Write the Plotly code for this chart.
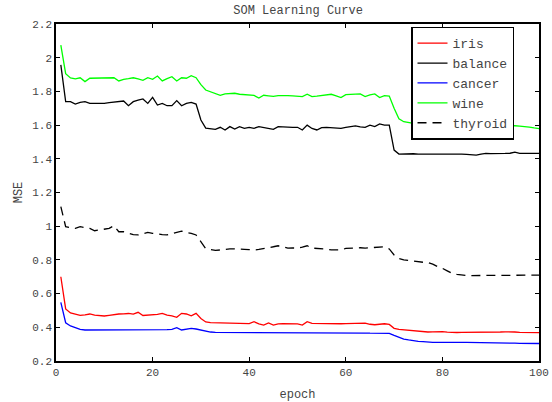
import plotly.graph_objects as go

epochs = list(range(1, 101))

iris = [
    0.700, 0.509, 0.485, 0.476, 0.471, 0.474, 0.479, 0.472, 0.469, 0.467,
    0.471, 0.476, 0.479, 0.480, 0.482, 0.478, 0.489, 0.470, 0.471, 0.473,
    0.477, 0.483, 0.472, 0.468, 0.459, 0.483, 0.479, 0.468, 0.483, 0.452,
    0.432, 0.428, 0.427, 0.426, 0.425, 0.424, 0.423, 0.422, 0.424, 0.422,
    0.433, 0.420, 0.413, 0.426, 0.413, 0.420, 0.422, 0.421, 0.422, 0.420,
    0.413, 0.433, 0.423, 0.422, 0.421, 0.422, 0.420, 0.419, 0.421, 0.422,
    0.422, 0.424, 0.426, 0.425, 0.418, 0.415, 0.418, 0.421, 0.417, 0.394,
    0.388, 0.385, 0.384, 0.382, 0.380, 0.376, 0.372, 0.373, 0.375, 0.374,
    0.371, 0.368, 0.369, 0.370, 0.370, 0.370, 0.369, 0.368, 0.369, 0.370,
    0.371, 0.372, 0.373, 0.374, 0.372, 0.370, 0.369, 0.370, 0.369, 0.368,
]

balance = [
    1.957, 1.739, 1.739, 1.725, 1.735, 1.739, 1.729, 1.728, 1.729, 1.729,
    1.733, 1.735, 1.740, 1.743, 1.715, 1.739, 1.748, 1.755, 1.729, 1.765,
    1.719, 1.729, 1.715, 1.715, 1.745, 1.715, 1.729, 1.735, 1.725, 1.630,
    1.582, 1.580, 1.575, 1.587, 1.571, 1.591, 1.577, 1.591, 1.581, 1.587,
    1.581, 1.591, 1.587, 1.581, 1.575, 1.591, 1.589, 1.586, 1.587, 1.587,
    1.571, 1.600, 1.580, 1.571, 1.585, 1.586, 1.585, 1.583, 1.581, 1.586,
    1.591, 1.595, 1.590, 1.587, 1.600, 1.591, 1.607, 1.600, 1.600, 1.452,
    1.428, 1.430, 1.432, 1.430, 1.428, 1.428, 1.432, 1.430, 1.428, 1.429,
    1.430, 1.431, 1.430, 1.428, 1.426, 1.424, 1.422, 1.428, 1.432, 1.431,
    1.430, 1.431, 1.432, 1.433, 1.440, 1.432, 1.431, 1.432, 1.431, 1.432,
]

cancer = [
    0.548, 0.427, 0.408, 0.397, 0.388, 0.384, 0.384, 0.384, 0.384, 0.385,
    0.383, 0.386, 0.384, 0.385, 0.386, 0.385, 0.385, 0.386, 0.386, 0.384,
    0.386, 0.385, 0.386, 0.388, 0.398, 0.384, 0.390, 0.394, 0.390, 0.384,
    0.374, 0.372, 0.370, 0.370, 0.369, 0.369, 0.368, 0.368, 0.368, 0.369,
    0.368, 0.368, 0.367, 0.368, 0.368, 0.367, 0.367, 0.368, 0.367, 0.367,
    0.367, 0.368, 0.367, 0.367, 0.367, 0.366, 0.367, 0.367, 0.366, 0.366,
    0.366, 0.367, 0.368, 0.366, 0.365, 0.364, 0.364, 0.364, 0.364, 0.352,
    0.340, 0.330, 0.325, 0.320, 0.317, 0.315, 0.312, 0.311, 0.311, 0.310,
    0.310, 0.310, 0.310, 0.310, 0.310, 0.310, 0.309, 0.308, 0.308, 0.307,
    0.307, 0.307, 0.306, 0.306, 0.306, 0.305, 0.305, 0.304, 0.304, 0.304,
]

wine = [
    2.075, 1.905, 1.880, 1.874, 1.881, 1.858, 1.878, 1.879, 1.879, 1.880,
    1.880, 1.881, 1.862, 1.872, 1.876, 1.881, 1.874, 1.866, 1.881, 1.872,
    1.891, 1.862, 1.876, 1.887, 1.862, 1.881, 1.878, 1.893, 1.881, 1.840,
    1.808, 1.798, 1.790, 1.777, 1.785, 1.789, 1.789, 1.783, 1.782, 1.780,
    1.776, 1.761, 1.777, 1.774, 1.771, 1.775, 1.777, 1.775, 1.773, 1.771,
    1.769, 1.783, 1.769, 1.772, 1.775, 1.779, 1.783, 1.774, 1.763, 1.781,
    1.782, 1.784, 1.785, 1.769, 1.780, 1.785, 1.763, 1.775, 1.772, 1.700,
    1.638, 1.620, 1.613, 1.610, 1.607, 1.605, 1.606, 1.603, 1.602, 1.603,
    1.601, 1.600, 1.600, 1.599, 1.600, 1.601, 1.603, 1.604, 1.605, 1.601,
    1.598, 1.598, 1.597, 1.598, 1.596, 1.594, 1.592, 1.588, 1.583, 1.579,
]

thyroid = [
    1.116, 0.997, 0.992, 0.987, 0.997, 0.992, 0.987, 0.973, 0.978, 0.982,
    0.987, 1.003, 0.967, 0.967, 0.958, 0.950, 0.948, 0.955, 0.963, 0.958,
    0.953, 0.950, 0.948, 0.955, 0.965, 0.971, 0.963, 0.958, 0.948, 0.905,
    0.867, 0.862, 0.857, 0.859, 0.863, 0.866, 0.866, 0.866, 0.863, 0.861,
    0.859, 0.862, 0.866, 0.870, 0.878, 0.884, 0.877, 0.870, 0.871, 0.870,
    0.876, 0.884, 0.870, 0.869, 0.868, 0.864, 0.859, 0.859, 0.859, 0.868,
    0.870, 0.873, 0.872, 0.870, 0.872, 0.874, 0.876, 0.878, 0.865, 0.829,
    0.808, 0.800, 0.797, 0.792, 0.787, 0.786, 0.785, 0.775, 0.760, 0.750,
    0.735, 0.720, 0.714, 0.710, 0.708, 0.707, 0.707, 0.707, 0.708, 0.709,
    0.709, 0.709, 0.710, 0.710, 0.710, 0.710, 0.709, 0.710, 0.710, 0.710,
]

series = [
    ("iris", iris, "#ff0000", "solid"),
    ("balance", balance, "#000000", "solid"),
    ("cancer", cancer, "#0000ff", "solid"),
    ("wine", wine, "#00ff00", "solid"),
    ("thyroid", thyroid, "#000000", "9px,6px"),
]

FONT = "Courier New, Liberation Mono, monospace"
TEXT = "#444444"

fig = go.Figure()
for name, values, color, dash in series:
    fig.add_trace(go.Scatter(
        x=epochs, y=values, name=name, mode="lines",
        line=dict(color=color, width=1.3, dash=dash),
    ))

axis_common = dict(
    showgrid=False, zeroline=False, automargin=False,
    showline=True, linecolor="black", linewidth=1.5,
    mirror="ticks", ticks="inside", ticklen=4, tickcolor="black",
    tickfont=dict(family=FONT, size=11, color=TEXT),
)

fig.update_xaxes(
    range=[0, 100], tickvals=[0, 20, 40, 60, 80, 100],
    title=dict(text="epoch", font=dict(family=FONT, size=12, color=TEXT), standoff=12),
    **axis_common,
)
fig.update_yaxes(
    range=[0.2, 2.2], tickvals=[0.2, 0.4, 0.6, 0.8, 1.0, 1.2, 1.4, 1.6, 1.8, 2.0, 2.2],
    title=dict(text="MSE", font=dict(family=FONT, size=12, color=TEXT), standoff=7),
    **axis_common,
)

fig.update_layout(
    width=552, height=402,
    margin=dict(l=56, r=13, t=24, b=41),
    paper_bgcolor="white", plot_bgcolor="white",
    title=dict(
        text="SOM Learning Curve", x=0.54, xanchor="center",
        y=0.975, yanchor="middle", yref="container",
        font=dict(family=FONT, size=12, color=TEXT),
    ),
    legend=dict(
        x=0.735, y=0.992, xanchor="left", yanchor="top",
        bgcolor="white", bordercolor="black", borderwidth=1.5,
        font=dict(family=FONT, size=13, color=TEXT),
        tracegroupgap=0, entrywidth=72, entrywidthmode="pixels",
    ),
    showlegend=True,
)

fig.write_html("out.html")
